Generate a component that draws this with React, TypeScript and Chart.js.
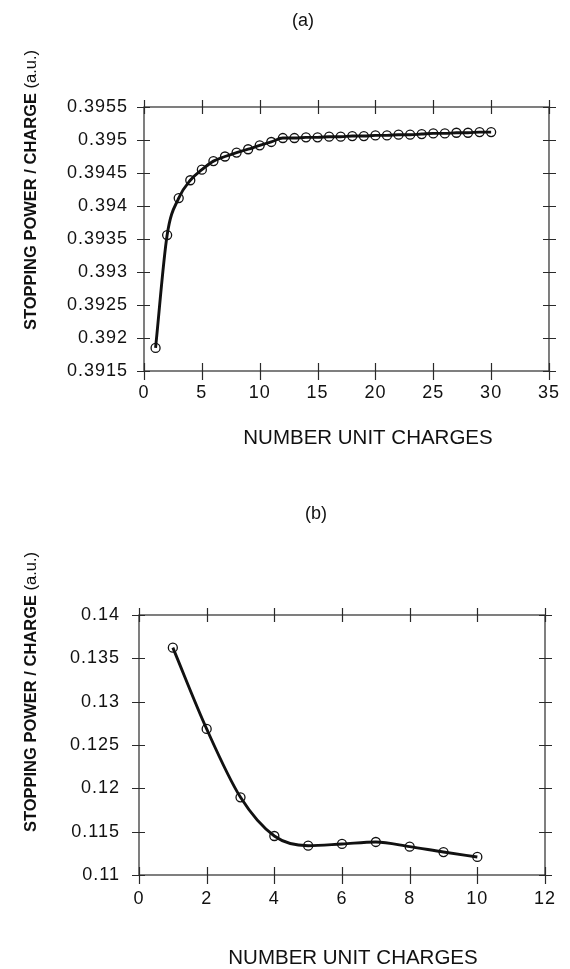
import React, { useEffect, useRef } from "react";
import { Chart, registerables } from "chart.js";

Chart.register(...registerables);

// ---------- Data: panel (a) ----------
const chargesA = [1, 2, 3, 4, 5, 6, 7, 8, 9, 10, 11, 12, 13, 14, 15, 16, 17, 18, 19, 20, 21, 22, 23, 24, 25, 26, 27, 28, 29, 30];
const valuesA = [
  0.39185, 0.39356, 0.39412, 0.39439, 0.39455, 0.39468, 0.39475, 0.39481, 0.39486, 0.39492,
  0.39497, 0.39503, 0.39503, 0.39504, 0.39504, 0.39505, 0.39505, 0.39506, 0.39506, 0.39507,
  0.39507, 0.39508, 0.39508, 0.39509, 0.3951, 0.3951, 0.39511, 0.39511, 0.39512, 0.39512,
];
const xTicksA = [0, 5, 10, 15, 20, 25, 30, 35];
const yTicksA = [0.3915, 0.392, 0.3925, 0.393, 0.3935, 0.394, 0.3945, 0.395, 0.3955];

// ---------- Data: panel (b) ----------
const chargesB = [1, 2, 3, 4, 5, 6, 7, 8, 9, 10];
const valuesB = [0.13623, 0.12685, 0.11896, 0.1145, 0.11338, 0.11358, 0.11381, 0.11327, 0.11265, 0.11208];
const xTicksB = [0, 2, 4, 6, 8, 10, 12];
const yTicksB = [0.11, 0.115, 0.12, 0.125, 0.13, 0.135, 0.14];

const panelLabels = ["(a)", "(b)"];
const xTitle = "NUMBER UNIT CHARGES";
const yTitleBold = "STOPPING POWER / CHARGE ";
const yTitleNormal = "(a.u.)";

const FONT = "'Liberation Sans', Arial, Helvetica, sans-serif";
const INK = "#111111";

const framePlugin = {
  id: "frame",
  beforeDraw(chart: any) {
    chart.ctx.letterSpacing = "1px";
  },
  beforeDatasetsDraw(chart: any) {
    const { ctx, chartArea: a, scales } = chart;
    const x = scales.x;
    const y = scales.y;
    ctx.save();
    ctx.letterSpacing = "0px";
    ctx.strokeStyle = "#2a2a2a";
    ctx.lineWidth = 1.2;
    ctx.strokeRect(a.left, a.top, a.right - a.left, a.bottom - a.top);
    ctx.beginPath();
    x.ticks.forEach((t: any) => {
      const px = Math.round(x.getPixelForValue(t.value)) + 0.5;
      ctx.moveTo(px, a.top - 7);
      ctx.lineTo(px, a.top + 7);
      ctx.moveTo(px, a.bottom - 8);
      ctx.lineTo(px, a.bottom + 9);
    });
    y.ticks.forEach((t: any) => {
      const py = Math.round(y.getPixelForValue(t.value)) + 0.5;
      ctx.moveTo(a.left - 7, py);
      ctx.lineTo(a.left + 6, py);
      ctx.moveTo(a.right - 6, py);
      ctx.lineTo(a.right + 7, py);
    });
    ctx.stroke();
    ctx.restore();
  },
  afterDraw(chart: any, _args: any, opts: any) {
    const { ctx } = chart;
    ctx.save();
    ctx.letterSpacing = "0px";
    ctx.fillStyle = INK;
    ctx.textBaseline = "middle";
    // panel label
    ctx.font = `18px ${FONT}`;
    ctx.textAlign = "center";
    ctx.fillText(opts.panel, opts.panelX, opts.panelY);
    // x title
    ctx.font = `20.5px ${FONT}`;
    ctx.fillText(xTitle, opts.xTitleX, opts.xTitleY);
    // y title (rotated, mixed weight)
    const boldFont = `bold 16.5px ${FONT}`;
    const normFont = `16.5px ${FONT}`;
    ctx.font = boldFont;
    const wb = ctx.measureText(yTitleBold).width;
    ctx.font = normFont;
    const wn = ctx.measureText(yTitleNormal).width;
    const total = wb + wn;
    ctx.translate(opts.yTitleX, opts.yTitleY);
    ctx.rotate(-Math.PI / 2);
    ctx.textAlign = "left";
    ctx.font = boldFont;
    ctx.fillText(yTitleBold, -total / 2, 0);
    ctx.font = normFont;
    ctx.fillText(yTitleNormal, -total / 2 + wb, 0);
    ctx.restore();
    chart.ctx.letterSpacing = "0px";
  },
};

type Geo = {
  width: number;
  height: number;
  left: number;
  top: number;
  right: number;
  bottom: number;
  yPad: number;
  xPad: number;
  labels: any;
};

function makeConfig(xs: number[], ys: number[], xTicks: number[], yTicks: number[], g: Geo): any {
  const xAxisH = 40;
  return {
    type: "line",
    data: {
      datasets: [
        {
          data: xs.map((v, i) => ({ x: v, y: ys[i] })),
          borderColor: INK,
          borderWidth: 2.9,
          pointRadius: 4.5,
          pointBorderWidth: 1.3,
          pointBackgroundColor: "rgba(0,0,0,0)",
          pointBorderColor: INK,
          cubicInterpolationMode: "monotone",
          clip: false,
        },
      ],
    },
    options: {
      responsive: false,
      animation: false,
      events: [],
      layout: {
        padding: {
          left: 0,
          top: g.top,
          right: g.width - g.right,
          bottom: g.height - g.bottom - xAxisH,
        },
      },
      plugins: {
        legend: { display: false },
        tooltip: { enabled: false },
        frame: g.labels,
      },
      scales: {
        x: {
          type: "linear",
          min: xTicks[0],
          max: xTicks[xTicks.length - 1],
          afterBuildTicks: (s: any) => {
            s.ticks = xTicks.map((v) => ({ value: v }));
          },
          afterFit: (s: any) => {
            s.height = xAxisH;
          },
          grid: { display: false, drawTicks: false },
          border: { display: false },
          ticks: {
            color: INK,
            padding: g.xPad,
            maxRotation: 0,
            autoSkip: false,
            font: { family: FONT, size: 18 },
            callback: (v: any) => String(v),
          },
        },
        y: {
          type: "linear",
          min: yTicks[0],
          max: yTicks[yTicks.length - 1],
          afterBuildTicks: (s: any) => {
            s.ticks = yTicks.map((v) => ({ value: v }));
          },
          afterFit: (s: any) => {
            s.width = g.left;
          },
          grid: { display: false, drawTicks: false },
          border: { display: false },
          ticks: {
            color: INK,
            padding: g.yPad,
            autoSkip: false,
            font: { family: FONT, size: 18 },
            callback: (v: any) => String(+Number(v).toFixed(4)),
          },
        },
      },
    },
    plugins: [framePlugin],
  };
}

function Panel(props: { config: any; width: number; height: number; top: number }) {
  const ref = useRef<HTMLCanvasElement | null>(null);
  useEffect(() => {
    if (!ref.current) return;
    const chart = new Chart(ref.current, props.config);
    return () => chart.destroy();
  }, []);
  return (
    <canvas
      ref={ref}
      width={props.width}
      height={props.height}
      style={{ position: "absolute", left: 0, top: props.top, width: props.width, height: props.height }}
    />
  );
}

export default function App() {
  const W = 570;
  const HA = 490;
  const HB = 479;
  const cfgA = makeConfig(chargesA, valuesA, xTicksA, yTicksA, {
    width: W,
    height: HA,
    left: 144,
    top: 107,
    right: 549,
    bottom: 371,
    yPad: 16,
    xPad: 11,
    labels: {
      panel: panelLabels[0],
      panelX: 303,
      panelY: 21,
      xTitleX: 368,
      xTitleY: 438,
      yTitleX: 31,
      yTitleY: 190,
    },
  });
  const cfgB = makeConfig(chargesB, valuesB, xTicksB, yTicksB, {
    width: W,
    height: HB,
    left: 139,
    top: 615 - HA,
    right: 545,
    bottom: 875 - HA,
    yPad: 19,
    xPad: 13,
    labels: {
      panel: panelLabels[1],
      panelX: 316,
      panelY: 514 - HA,
      xTitleX: 353,
      xTitleY: 958 - HA,
      yTitleX: 31,
      yTitleY: 692 - HA,
    },
  });
  return (
    <div style={{ position: "absolute", left: 0, top: 0, width: W, height: 969, background: "#fff" }}>
      <Panel config={cfgA} width={W} height={HA} top={0} />
      <Panel config={cfgB} width={W} height={HB} top={HA} />
    </div>
  );
}
